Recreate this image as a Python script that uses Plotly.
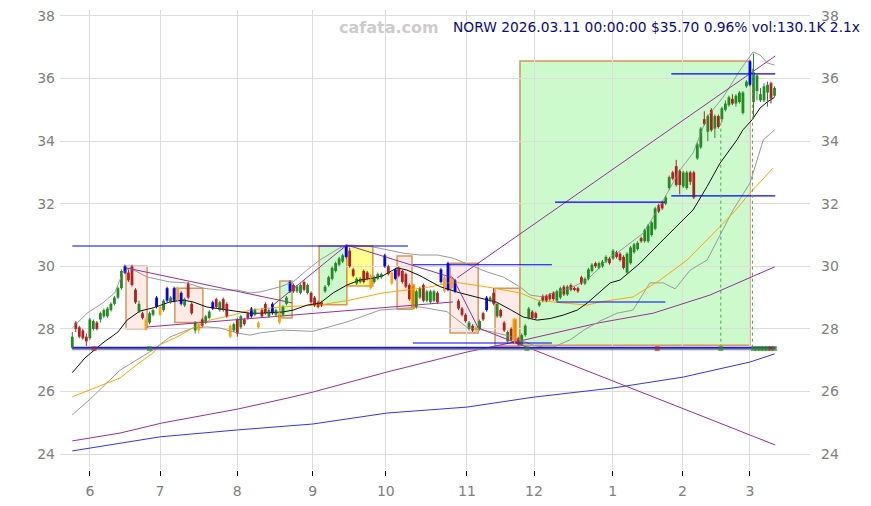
import plotly.graph_objects as go

# ---------------- data ----------------
open_ = [27.4,28.2,28.05,27.95,27.75,27.7,28.0,28.2,28.3,28.4,28.4,28.6,28.8,29.0,29.3,29.8,29.8,30.0,29.25,28.55,
         28.5,28.0,28.2,28.45,28.7,28.7,28.6,28.9,28.85,28.9,29.3,29.15,28.75,29.45,28.8,27.95,28.15,28.3,28.2,28.35,
         28.65,28.95,28.6,28.95,28.8,28.1,27.95,28.3,28.05,28.3,28.5,28.4,28.45,28.2,28.6,28.8,28.4,28.5,28.45,28.5,
         28.45,28.8,29.2,29.4,29.2,29.15,29.5,29.15,29.15,29.0,28.85,28.85,29.2,29.4,29.6,29.85,30.05,30.15,30.3,30.5,
         29.9,29.45,29.5,29.85,29.8,29.7,29.5,29.6,29.65,30.0,30.0,29.8,29.6,29.95,29.85,29.75,29.4,29.4,28.7,29.0,
         29.4,28.9,28.85,28.9,29.15,29.5,29.2,29.25,29.65,29.55,28.9,28.65,28.45,28.0,28.1,28.05,28.0,28.5,28.6,28.9,
         29.15,28.4,28.6,28.2,27.6,28.0,28.3,27.7,27.5,27.8,28.35,28.55,28.5,28.75,29.05,29.05,29.1,29.15,28.9,29.0,
         29.35,29.1,29.4,29.3,29.3,29.65,29.45,29.6,29.85,30.1,29.95,30.0,30.15,30.25,30.25,30.45,30.4,30.3,29.8,30.1,
         30.45,30.55,30.9,30.8,30.8,31.0,31.2,31.95,32.05,32.0,32.5,33.0,33.2,33.05,32.55,32.5,33.0,33.0,33.45,33.8,
         34.7,34.3,35.0,34.4,34.8,34.7,35.0,35.15,35.35,35.2,35.25,34.9,35.75,35.8,35.25,35.6,35.3,35.3,35.55,35.85,
         35.45]
close = [27.75,28.0,27.75,27.7,27.6,28.3,28.25,28.0,28.5,28.6,28.65,28.8,29.0,29.3,29.85,30.0,29.55,29.4,28.85,28.8,
         28.35,28.3,28.5,28.6,29.0,28.45,28.9,29.3,29.0,29.3,28.9,28.8,28.95,29.0,28.5,28.2,27.95,28.1,28.4,28.55,
         28.85,28.7,28.85,28.6,28.4,27.75,28.15,27.85,28.4,28.15,28.35,28.65,28.6,28.05,28.4,28.5,28.6,28.8,28.6,28.2,
         28.7,29.0,29.5,29.2,29.35,29.4,29.25,29.4,28.85,28.75,28.7,28.75,29.35,29.65,29.95,30.1,30.25,30.35,30.65,30.0,
         29.7,29.6,29.6,29.5,29.6,29.3,29.65,29.75,29.75,30.35,29.75,29.45,29.9,29.7,29.5,29.35,28.95,28.65,29.2,29.3,
         28.9,29.2,29.2,29.2,28.85,29.9,29.65,30.1,29.3,29.2,28.65,28.45,28.25,28.2,27.95,27.95,28.25,28.3,29.0,29.0,
         28.8,28.8,28.4,27.95,27.9,27.65,27.55,27.5,27.8,28.1,28.65,28.35,28.35,28.85,28.9,28.9,28.95,28.95,29.2,29.3,
         29.1,29.35,29.25,29.25,29.2,29.45,29.6,29.9,30.05,30.0,30.1,30.15,30.3,30.1,30.5,30.3,30.2,29.95,30.4,30.6,
         30.7,30.75,30.8,31.15,31.3,31.4,31.85,31.75,31.85,32.2,32.85,32.8,32.6,32.6,33.0,33.0,32.7,32.2,33.9,34.4,
         34.55,34.8,34.35,34.8,34.45,35.05,35.2,35.4,35.2,35.45,35.55,35.55,35.9,36.55,36.2,36.1,35.5,35.75,35.8,35.36,
         35.7]
high = [27.9,28.25,28.1,28.0,27.85,28.35,28.3,28.25,28.55,28.65,28.7,28.85,29.05,29.35,29.9,30.05,29.9,30.05,29.3,28.9,
        28.55,28.35,28.55,28.65,29.05,28.75,28.95,29.35,29.05,29.35,29.35,29.2,29.0,29.5,28.85,28.25,28.2,28.35,28.45,28.6,
        28.9,29.0,28.9,29.0,28.85,28.15,28.2,28.35,28.45,28.35,28.55,28.7,28.65,28.25,28.65,28.85,28.65,28.85,28.65,28.55,
        28.75,29.05,29.55,29.45,29.4,29.45,29.55,29.45,29.2,29.05,28.9,28.9,29.4,29.7,30.0,30.15,30.3,30.4,30.7,30.6,
        29.95,29.65,29.65,29.9,29.85,29.75,29.7,29.8,29.8,30.4,30.05,29.85,29.95,30.0,29.9,29.8,29.45,29.45,29.25,29.35,
        29.45,29.25,29.25,29.25,29.2,29.95,29.7,30.15,29.7,29.6,28.95,28.7,28.5,28.25,28.15,28.1,28.3,28.55,29.05,29.05,
        29.3,28.85,28.65,28.25,27.95,28.05,28.35,27.75,27.85,28.15,28.7,28.6,28.55,28.9,29.1,29.1,29.15,29.2,29.25,29.35,
        29.4,29.4,29.45,29.35,29.35,29.7,29.65,29.95,30.1,30.15,30.15,30.2,30.35,30.3,30.55,30.5,30.45,30.35,30.45,30.65,
        30.75,30.8,30.95,31.2,31.35,31.45,31.9,32.0,32.1,32.25,32.9,33.05,33.4,33.1,33.05,33.05,33.05,33.05,33.95,34.45,
        34.95,34.85,35.05,34.85,34.85,35.1,35.3,35.45,35.5,35.5,35.6,35.6,35.95,36.6,36.8,36.15,35.7,35.85,35.9,35.9,
        35.75]
low = [27.35,27.9,27.7,27.65,27.45,27.65,27.95,27.95,28.2,28.35,28.35,28.55,28.75,28.95,29.25,29.75,29.5,29.35,28.8,28.5,
       28.3,27.95,28.15,28.4,28.65,28.4,28.55,28.85,28.8,28.85,28.85,28.75,28.7,28.95,28.45,27.85,27.85,28.05,28.15,28.3,
       28.6,28.65,28.55,28.55,28.35,27.7,27.9,27.75,28.0,28.1,28.3,28.35,28.4,28.0,28.35,28.45,28.35,28.45,28.4,28.15,
       28.4,28.75,29.15,29.15,29.15,29.1,29.2,29.1,28.8,28.7,28.65,28.7,29.15,29.35,29.55,29.8,30.0,30.1,30.25,29.95,
       29.65,29.4,29.45,29.45,29.55,29.25,29.45,29.55,29.6,29.95,29.7,29.4,29.55,29.65,29.45,29.3,28.9,28.6,28.65,28.95,
       28.85,28.85,28.8,28.85,28.8,29.45,29.15,29.2,29.25,29.15,28.6,28.4,28.2,27.95,27.9,27.9,27.95,28.25,28.55,28.85,
       28.75,28.35,28.35,27.9,27.55,27.6,27.5,27.45,27.45,27.75,28.3,28.3,28.3,28.7,28.85,28.85,28.9,28.9,28.85,28.95,
       29.05,29.05,29.2,29.2,29.15,29.4,29.4,29.55,29.8,29.95,29.9,29.95,30.1,30.05,30.2,30.25,30.15,29.9,29.75,30.05,
       30.4,30.5,30.75,30.75,30.75,30.95,31.15,31.7,31.8,31.95,32.45,32.75,32.55,32.3,32.5,32.45,32.6,32.15,33.4,33.75,
       34.5,34.0,34.3,34.1,34.4,34.6,34.95,35.1,35.15,35.1,35.2,34.85,35.7,35.75,34.7,35.3,35.25,35.25,35.1,35.2,
       35.4]

blue_idx = [15, 24, 27, 29, 31, 40, 51, 57, 62, 78, 89, 92, 105, 107, 109, 118, 193]
orange_idx = [21, 25, 30, 36, 45, 53, 59, 85, 91, 106, 108, 115]
hollow_idx = [97, 126]

month_tick_idx = [5, 25, 47, 68.5, 89.3, 112.4, 131.5, 153.9, 173.8, 193]
month_labels = ["6", "7", "8", "9", "10", "11", "12", "1", "2", "3"]

# moving averages (index, value)
ma_short_x = [0, 3.6, 8.7, 13, 15.6, 19.3, 23, 27.8, 31.5, 34.4, 38.3, 44, 50.6, 53.5, 60, 62.9, 66.9, 70.5, 74.3, 78.2,
              81.9, 85.6, 88.5, 92.5, 95.3, 99, 104.7, 110.4, 116.1, 120.9, 124.7, 128.4, 132.4, 136.1, 139.8, 143.8,
              146.6, 150.3, 153.2, 156, 161.7, 167.4, 173.1, 176.8, 180.8, 184.5, 189.3, 191, 193.6, 195.9, 197.9, 200]
ma_short_v = [26.6, 27.07, 27.55, 27.9, 28.28, 28.57, 28.67, 28.86, 28.92, 28.86, 28.7, 28.6, 28.5, 28.5, 28.54, 28.6,
              28.76, 28.82, 29.15, 29.4, 29.56, 29.62, 29.7, 29.95, 29.88, 29.7, 29.35, 29.15, 29.0, 28.85, 28.62, 28.38,
              28.28, 28.33, 28.44, 28.6, 28.82, 29.2, 29.47, 29.56, 30.1, 30.75, 31.4, 31.8, 32.55, 33.3, 34.04, 34.36,
              34.68, 35.06, 35.25, 35.4]
ma_mid_x = [0, 13.6, 18.3, 23, 24.9, 29.8, 34.4, 39.2, 45.7, 50.6, 59.1, 70.5, 79.1, 88.5, 95.3, 101.9, 108.4, 118.1,
            127.5, 132.4, 136.9, 141.8, 146.6, 150.3, 159.7, 167.4, 175.1, 181.6, 188.2, 193, 199.6]
ma_mid_v = [25.83, 26.43, 26.85, 27.23, 27.49, 27.74, 28.03, 28.28, 28.44, 28.6, 28.7, 28.76, 28.92, 29.15, 29.24,
            29.34, 29.5, 29.34, 29.15, 28.92, 28.86, 28.82, 28.76, 28.86, 29.02, 29.56, 30.2, 30.94, 31.7, 32.34, 33.14]
band_up_x = [0, 4.2, 8.7, 12.1, 14.4, 16.4, 21.2, 27.8, 32.6, 37.2, 42, 46.9, 50.6, 53.5, 59.1, 62.9, 66.5, 70.5, 76.2,
             79.1, 85.6, 90.5, 94.2, 99, 104.1, 108.4, 113.3, 118.1, 122.7, 127.5, 130.4, 134.1, 136.9, 141.8, 146.6,
             150.3, 153.2, 155.1, 162.6, 168.3, 173.1, 176.8, 180.8, 185.4, 190.2, 193.9, 195.9, 197.9, 200]
band_up_v = [28.03, 28.5, 28.83, 29.15, 29.8, 29.95, 29.66, 29.5, 29.47, 29.3, 29.24, 29.24, 29.15, 29.18, 29.34, 29.5,
             29.85, 30.2, 30.59, 30.68, 30.62, 30.5, 30.42, 30.36, 30.36, 30.26, 30.04, 29.82, 29.66, 29.34, 29.08,
             29.02, 29.15, 29.3, 29.56, 29.98, 30.3, 30.42, 31.06, 32.1, 33.08, 33.62, 34.77, 35.41, 36.27, 36.85,
             36.75, 36.5, 36.43]
band_lo_x = [0, 5.7, 13.6, 19.3, 23, 27.8, 34.4, 38.3, 42, 46.9, 50.6, 53.5, 60, 68.5, 78.2, 87.6, 99, 106.7, 112.4,
             119.8, 125.5, 131.2, 134.1, 137, 141.8, 145.7, 150.3, 155.1, 159.7, 164.5, 168.3, 171.7, 176, 180.8,
             188.2, 193, 196.8, 200]
band_lo_v = [25.25, 25.82, 26.68, 27.07, 27.33, 27.74, 28.03, 28.06, 28.03, 27.87, 27.8, 27.87, 27.96, 27.92, 28.22,
             28.6, 28.7, 28.55, 28.05, 27.9, 27.74, 27.48, 27.42, 27.42, 27.65, 27.96, 28.25, 28.5, 28.6, 29.47, 29.47,
             29.28, 29.88, 30.2, 31.8, 32.66, 34.04, 34.36]
long_purple_x = [0, 13.6, 25.5, 47.2, 61.4, 68.5, 89.6, 112.4, 128.9, 150.3, 165.4, 181.6, 200]
long_purple_v = [24.42, 24.67, 24.99, 25.44, 25.79, 25.98, 26.62, 27.26, 27.65, 28.2, 28.5, 29.08, 29.98]
long_blue_x = [0, 25, 47, 68.5, 89.6, 112.4, 131.5, 154, 174, 193, 200]
long_blue_v = [24.10, 24.55, 24.77, 24.96, 25.31, 25.50, 25.82, 26.11, 26.46, 26.94, 27.20]

# trend lines (x0, y0, x1, y1)
trend_lines = [
    (15.3, 29.95, 62.6, 28.83),
    (21.3, 28.06, 108.4, 28.86),
    (57.2, 28.76, 78.2, 30.68),
    (78.2, 30.68, 108.4, 29.63),
    (108.4, 29.63, 115.6, 28.03),
    (115.6, 28.03, 200.2, 24.29),
    (109.6, 29.63, 200.2, 36.72),
]
# horizontal levels (x0, x1, value)
levels = [
    (0, 95.6, 30.65),
    (97, 136.6, 30.05),
    (97, 136.6, 27.55),
    (138, 168.9, 28.86),
    (137.5, 168.9, 32.05),
    (170.6, 200.2, 32.25),
    (170.6, 200.2, 36.15),
]
base_level = 27.4
# boxes (x0, x1, y0, y1, kind)
boxes = [
    (15.3, 21.3, 28.0, 30.0, "pink"),
    (29.2, 37.2, 28.2, 29.3, "pink"),
    (59.1, 62.6, 28.35, 29.53, "green"),
    (70.3, 78.2, 28.77, 30.65, "green"),
    (78.2, 85.6, 29.37, 30.65, "yellow"),
    (92.5, 96.75, 28.63, 30.33, "pink"),
    (107.6, 115.6, 27.87, 30.1, "pink"),
    (120.4, 127.5, 27.45, 29.3, "pink"),
    (127.5, 193, 27.48, 36.56, "green"),
]
dotted_x = [184.7, 193.7]
dotted_top = [34.6, 36.4]
marker_x = [6.2, 22, 129.5, 166.6, 184.7, 194, 195, 196, 197, 198, 199, 200]
marker_up = [False, True, True, False, True, True, True, True, True, True, False, True]

title_text = "NORW 2026.03.11 00:00:00 $35.70 0.96% vol:130.1K 2.1x"

# ---------------- figure ----------------
GREEN = "#238b23"
RED = "#b22222"
BLUE = "#0000ff"
ORANGE = "#ffa500"
PURPLE = "#9b309b"
FONT = "DejaVu Sans"

fig = go.Figure()

box_fill = {"pink": "rgb(252,235,231)", "green": "rgb(204,250,204)", "yellow": "rgb(255,255,140)"}
for x0, x1, y0, y1, kind in boxes:
    fig.add_shape(type="rect", xref="x", yref="y", x0=x0, x1=x1, y0=y0, y1=y1,
                  fillcolor=box_fill[kind], line=dict(color="rgba(214,130,60,0.85)", width=1.5),
                  layer="below")

def line(xs, ys, color, width=1.0, dash=None):
    fig.add_trace(go.Scatter(x=xs, y=ys, mode="lines", line=dict(color=color, width=width, dash=dash),
                             hoverinfo="skip", showlegend=False))

line(long_blue_x, long_blue_v, "#3333ff")
line(long_purple_x, long_purple_v, PURPLE)
line(band_up_x, band_up_v, "#9a9a9a")
line(band_lo_x, band_lo_v, "#9a9a9a")
line(ma_mid_x, ma_mid_v, ORANGE)
line(ma_short_x, ma_short_v, "#111111")
for x0, y0, x1, y1 in trend_lines:
    line([x0, x1], [y0, y1], PURPLE)
for x0, x1, v in levels:
    line([x0, x1], [v, v], BLUE, 1.1)
line([0, 200.3], [base_level - 0.045, base_level - 0.045], "rgba(120,120,140,0.8)", 2.5)
line([0, 200.3], [base_level, base_level], "#1a1ad0", 1.6)
for dx, dt in zip(dotted_x, dotted_top):
    line([dx, dx], [base_level, dt], "#4aa84a", 1, "dot")

fig.add_trace(go.Scatter(x=marker_x, y=[base_level - 0.03] * len(marker_x), mode="markers",
                         marker=dict(symbol="square", size=5,
                                     color=[GREEN if u else RED for u in marker_up], opacity=0.6),
                         hoverinfo="skip", showlegend=False))

# candles
n = len(close)
body_col, line_col, line_w, wick_groups = [], [], [], {}
for i in range(n):
    up = close[i] >= open_[i]
    if i in blue_idx:
        c, lc, w = BLUE, BLUE, 0
    elif i in orange_idx:
        c, lc, w = ORANGE, ORANGE, 0
    elif i in hollow_idx:
        c, lc, w = RED, ORANGE, 1.5
    else:
        c = GREEN if up else RED
        lc, w = c, 0
    body_col.append(c)
    line_col.append(lc)
    line_w.append(w)
    wc = lc if i in hollow_idx else c
    wick_groups.setdefault(wc, ([], []))
    wick_groups[wc][0].extend([i, i, None])
    wick_groups[wc][1].extend([low[i], high[i], None])

for col, (wx, wy) in wick_groups.items():
    fig.add_trace(go.Scatter(x=wx, y=wy, mode="lines", line=dict(color=col, width=1),
                             hoverinfo="skip", showlegend=False))

bases = [min(o, c) for o, c in zip(open_, close)]
heights = [max(abs(c - o), 0.02) for o, c in zip(open_, close)]
fig.add_trace(go.Bar(x=list(range(n)), base=bases, y=heights, width=0.8,
                     marker=dict(color=body_col, line=dict(color=line_col, width=line_w)),
                     hoverinfo="skip", showlegend=False))

# right-hand axis carrier
fig.add_trace(go.Scatter(x=[0], y=[30], yaxis="y2", mode="markers", marker=dict(opacity=0),
                         hoverinfo="skip", showlegend=False))

yr = [23.49, 38.19]
yt = list(range(24, 39, 2))
fig.update_layout(
    width=863, height=498,
    margin=dict(l=52, r=61, t=2, b=36, autoexpand=False),
    paper_bgcolor="white", plot_bgcolor="white",
    barmode="overlay", showlegend=False,
    font=dict(family=FONT, size=14, color="#808080"),
    xaxis=dict(range=[-3.5, 210.1], tickmode="array", tickvals=month_tick_idx, ticktext=month_labels,
               showgrid=True, gridcolor="#dddddd", gridwidth=1, zeroline=False, showline=False,
               ticks="outside", ticklen=5, tickcolor="#000000", ticklabelstandoff=3,
               tickfont=dict(size=14, color="#808080"), automargin=False),
    yaxis=dict(range=yr, tickmode="array", tickvals=yt, showgrid=True, gridcolor="#dddddd", zeroline=False,
               showline=False, ticks="", ticklabelstandoff=4, automargin=False, ticklabeloverflow="allow",
               tickfont=dict(size=14, color="#808080")),
    yaxis2=dict(range=yr, tickmode="array", tickvals=yt, overlaying="y", side="right", showgrid=False,
                zeroline=False, showline=False, ticks="", ticklabelstandoff=10, automargin=False,
                ticklabeloverflow="allow", tickfont=dict(size=14, color="#808080")),
    annotations=[
        dict(text="cafata.com", xref="paper", yref="paper", x=0.4387, y=0.963, xanchor="center",
             yanchor="middle", showarrow=False, font=dict(family=FONT, size=16, color="#cccccc", weight="bold")),
        dict(text=title_text, xref="paper", yref="paper", x=1.0693, y=0.963, xanchor="right",
             yanchor="middle", showarrow=False, font=dict(family=FONT, size=13.8, color="#0a0a8c")),
    ],
)

fig.write_html("out.html")
